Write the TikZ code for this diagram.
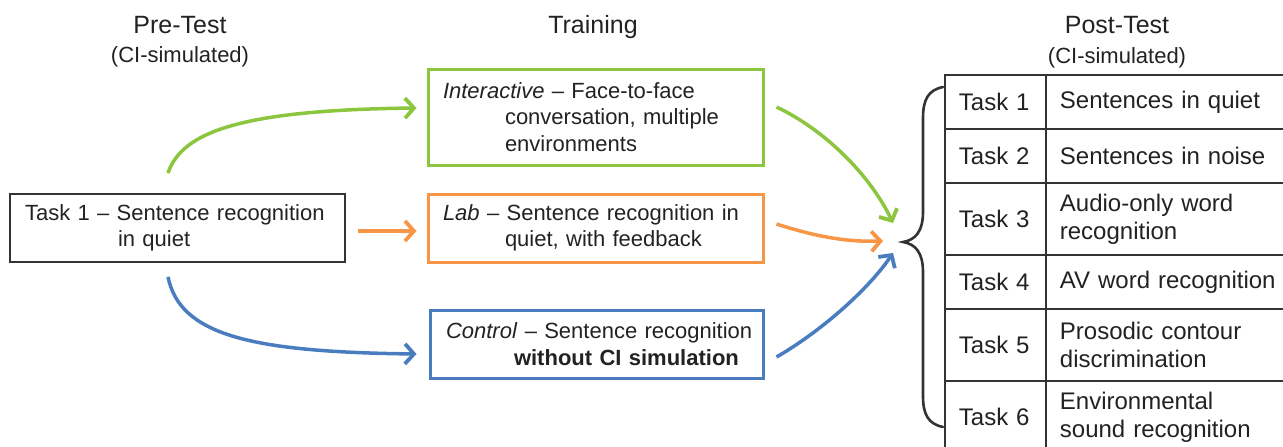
\documentclass[tikz,border=0pt]{standalone}
\usepackage{fontspec}
\setmainfont{Liberation Sans}
\usetikzlibrary{arrows.meta}
\definecolor{cgreen}{HTML}{8CC63E}
\definecolor{corange}{HTML}{F79646}
\definecolor{cblue}{HTML}{4A7DC0}
\definecolor{ctext}{HTML}{222222}
\definecolor{cline}{HTML}{333333}
\tikzset{
  boxtext/.style={font=\fontsize{22}{26.5}\selectfont, text=ctext, align=left, inner ysep=0pt},
  trainbox/.style={boxtext, draw=#1, line width=3pt, minimum height=96pt},
  taskbox/.style={boxtext, draw=cline, line width=1.8pt},
  title/.style={font=\fontsize{25}{28}\selectfont, text=ctext, anchor=base},
  subtitle/.style={font=\fontsize{22}{26}\selectfont, text=ctext, anchor=base},
  flow/.style={line width=3.5pt, draw=#1, -{Straight Barb[length=9pt,width=20pt,line width=3.8pt]}},
  cell/.style={draw=cline, line width=1.8pt, anchor=north west, align=left, inner xsep=14pt, inner ysep=0pt,
    font=\fontsize{24}{28}\selectfont, text=ctext},
  cola/.style={cell, minimum width=101pt, text width=73pt, minimum height=#1},
  colb/.style={cell, minimum width=255pt, text width=227pt, minimum height=#1},
}
\begin{document}
\begin{tikzpicture}[x=1pt,y=-1pt]
\useasboundingbox (0,0) rectangle (1283,447);
\clip (0,0) rectangle (1283,447);
% titles
\node[title] (pre) at (180,34) {Pre-Test};
\node[subtitle] (presub) at (180,62) {(CI-simulated)};
\node[title] (train) at (593,34) {Training};
\node[title] (post) at (1117,34) {Post-Test};
\node[subtitle] (postsub) at (1117,63) {(CI-simulated)};
% pre-test box
\node[taskbox, minimum height=68pt, text width=305pt, inner xsep=15pt] (task) at (177.5,228)
  {\mbox{Task 1 – Sentence recognition}\\\hspace*{93pt}in quiet};
% training boxes
\node[trainbox=cgreen, minimum height=96pt, text width=305pt, inner xsep=15pt] (inter) at (595.5,117)
  {\mbox{\textit{Interactive} – Face-to-face}\\\hspace*{62pt}\mbox{conversation, multiple}\\\hspace*{62pt}environments};
\node[trainbox=corange, minimum height=68pt, text width=305pt, inner xsep=15pt] (lab) at (595.5,228)
  {\mbox{\textit{Lab} – Sentence recognition in}\\\hspace*{62pt}\mbox{quiet, with feedback}};
\node[trainbox=cblue, minimum height=68pt, text width=301pt, inner xsep=16pt] (ctrl) at (596.5,344)
  {\mbox{\textit{Control} – Sentence recognition}\\\hspace*{68pt}\mbox{\textbf{without CI simulation}}};
% arrows pre -> training
\draw[flow=cgreen] ([xshift=-9.5pt,yshift=20pt]task.north) .. controls (182,132) and (240,110) .. ([xshift=-10pt,yshift=9pt]inter.west);
\draw[flow=corange] ([xshift=12pt,yshift=-3pt]task.east) -- ([xshift=-10pt,yshift=-3pt]lab.west);
\draw[flow=cblue] ([xshift=-9.5pt,yshift=-14pt]task.south) .. controls (180,335) and (250,352) .. ([xshift=-12pt,yshift=-10pt]ctrl.west);
% targets near brace
\coordinate (gtip) at (893,223);
\coordinate (otip) at (883,241);
\coordinate (btip) at (893,253);
\draw[flow=cgreen] ([xshift=12pt,yshift=10pt]inter.east) .. controls (825,130) and (870,175) .. (gtip);
\draw[flow=corange] ([xshift=12pt,yshift=4pt]lab.east) .. controls (820,238) and (850,242) .. (otip);
\draw[flow=cblue] ([xshift=12pt,yshift=-13pt]ctrl.east) .. controls (820,332) and (868,290) .. (btip);
% brace
\draw[line width=2.6pt, cline, line cap=round]
  (943,87) .. controls (928,90) and (923,100) .. (923,118) -- (923,212)
  .. controls (923,232) and (915,240) .. (903,242)
  .. controls (915,244) and (923,252) .. (923,272) -- (923,396)
  .. controls (923,414) and (928,424) .. (943,427);
% table
\node[cola=54pt] (a1) at (944,74) {Task 1};
\node[colb=54pt] (b1) at (1045,74) {Sentences in quiet};
\node[cola=54pt] (a2) at (944,128) {Task 2};
\node[colb=54pt] (b2) at (1045,128) {Sentences in noise};
\node[cola=72pt] (a3) at (944,182) {Task 3};
\node[colb=72pt] (b3) at (1045,182) {Audio-only word\\recognition};
\node[cola=54pt] (a4) at (944,254) {Task 4};
\node[colb=54pt] (b4) at (1045,254) {AV word recognition};
\node[cola=72pt] (a5) at (944,308) {Task 5};
\node[colb=72pt] (b5) at (1045,308) {Prosodic contour\\discrimination};
\node[cola=72pt] (a6) at (944,380) {Task 6};
\node[colb=72pt] (b6) at (1045,380) {Environmental\\sound recognition};
\end{tikzpicture}
\end{document}
